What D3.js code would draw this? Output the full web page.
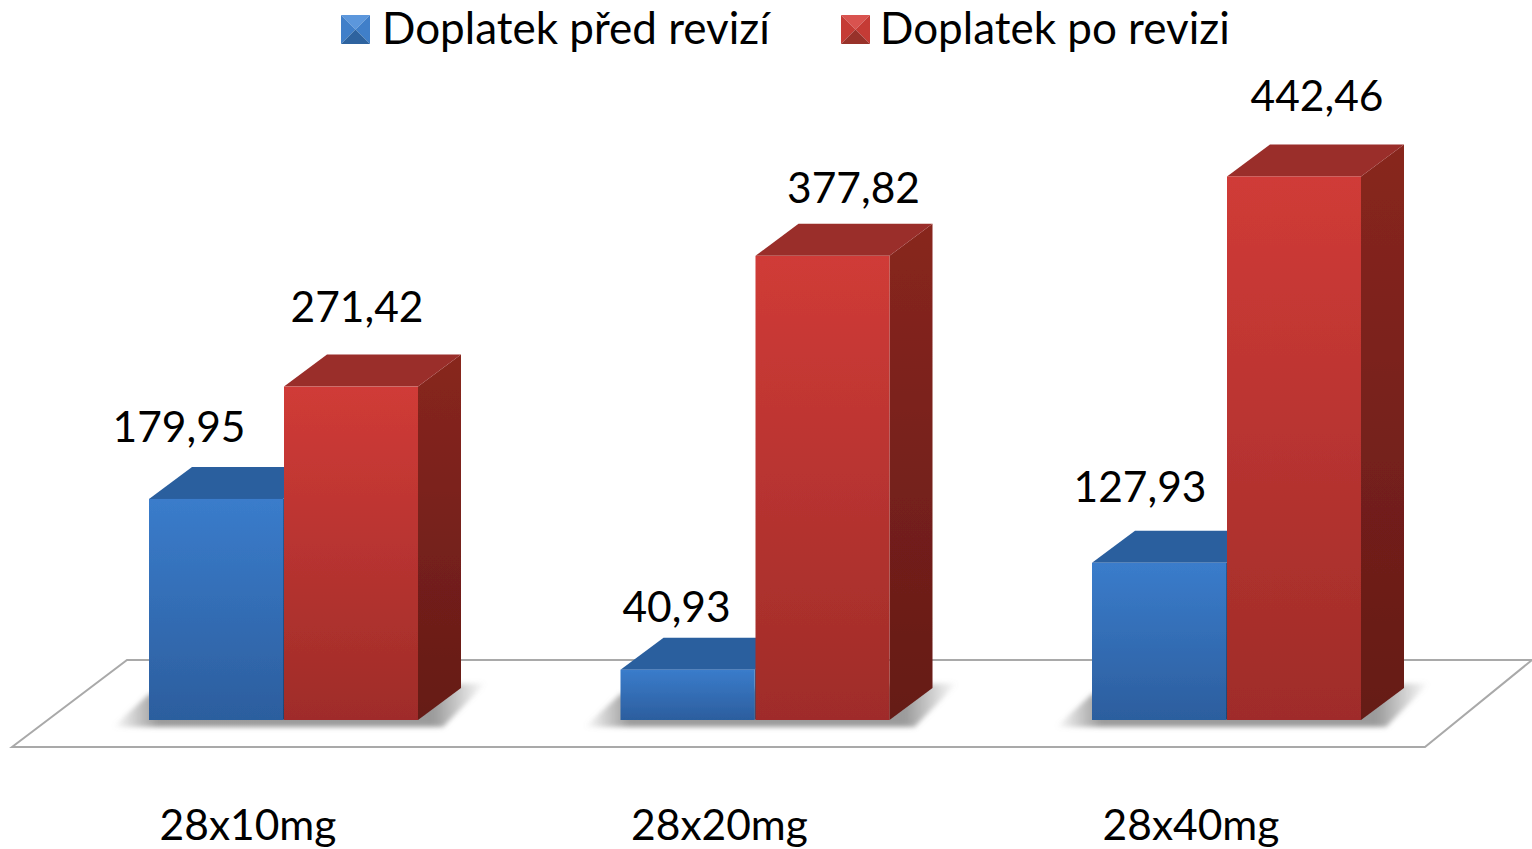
<!DOCTYPE html>
<html>
<head>
<meta charset="utf-8">
<script src="https://cdn.jsdelivr.net/npm/d3@7"></script>
<style>
html, body { margin: 0; padding: 0; background: #fff; }
svg { display: block; }
text { font-family: Lato, sans-serif; fill: #000; }
</style>
</head>
<body>
<div id="chart"></div>
<script>
const categories = ["28x10mg", "28x20mg", "28x40mg"];
const seriesNames = ["Doplatek před revizí", "Doplatek po revizi"];
const beforeValues = [179.95, 40.93, 127.93];
const afterValues = [271.42, 377.82, 442.46];

// hand placed labels in the original, offset from the bar's top front centre
const beforeLabelNudge = [[-38, -57], [-12, -48], [-20, -61]];
const afterLabelNudge = [[6, -65], [31, -53], [23, -65]];

const width = 1532, height = 849;
const baseY = 720;
const depthX = 43, depthY = 32;
const barW = 134;
const labelSize = 42.5;

const comma = v => v.toFixed(2).replace(".", ",");

const svg = d3.select("#chart").append("svg")
    .attr("width", width)
    .attr("height", height);
const defs = svg.append("defs");

const addGradient = function (id, top, bottom) {
    const g = defs.append("linearGradient")
        .attr("id", id)
        .attr("x1", 0).attr("y1", 0).attr("x2", 0).attr("y2", 1);
    g.append("stop").attr("offset", "0%").attr("stop-color", top);
    g.append("stop").attr("offset", "100%").attr("stop-color", bottom);
};
addGradient("frontBlue", "#3a7ccb", "#2c5e9e");
addGradient("frontRed", "#d03b37", "#9f2c29");
addGradient("sideBlue", "#2b5f9c", "#1f4674");
addGradient("sideRed", "#88261f", "#651b17");

// shadow fades out sideways
const shadowFade = defs.append("linearGradient").attr("id", "shadowFade");
[[0, 0], [0.12, 0.85], [0.86, 0.85], [1, 0]].forEach(function (s) {
    shadowFade.append("stop")
        .attr("offset", s[0])
        .attr("stop-color", "#8a8a8a")
        .attr("stop-opacity", s[1]);
});

defs.append("filter").attr("id", "soft")
    .attr("x", "-10%").attr("y", "-30%").attr("width", "120%").attr("height", "160%")
    .append("feGaussianBlur").attr("stdDeviation", 2.5);
defs.append("filter").attr("id", "jpeg")
    .attr("x", "-5%").attr("y", "-5%").attr("width", "110%").attr("height", "110%")
    .append("feGaussianBlur").attr("stdDeviation", 0.7);

const x = d3.scaleBand().domain(categories).range([48.25, 1462.75]);
const series = d3.scaleBand().domain(seriesNames).range([-barW, barW]);
const y = d3.scaleLinear().domain([0, 450]).range([baseY, baseY - 450 * 1.2285]);

const poly = pts => pts.map(p => p.join(",")).join(" ");

// floor
svg.append("polygon")
    .attr("points", poly([[12, 747], [127, 660], [1532, 660], [1425, 747]]))
    .attr("fill", "#fff")
    .attr("stroke", "#a9a9a9")
    .attr("stroke-width", 2);

const groups = svg.selectAll("g.group")
    .data(categories)
    .join("g")
    .attr("class", "group")
    .attr("transform", d => `translate(${x(d) + x.bandwidth() / 2 - 1},0)`);

// shadow under each pair of bars
groups.append("polygon")
    .attr("points", poly([
        [-barW - 36, baseY + 7],
        [-barW, baseY - 26],
        [barW + depthX + 26, baseY - 37],
        [barW + 26, baseY + 7]
    ]))
    .attr("fill", "url(#shadowFade)")
    .attr("filter", "url(#soft)");

const drawBar = function (sel, value, left, colour) {
    const top = y(value);
    const bar = sel.append("g").attr("filter", "url(#jpeg)");
    bar.append("polygon")
        .attr("points", poly([[left + barW, top], [left + barW + depthX, top - depthY], [left + barW + depthX, baseY - depthY], [left + barW, baseY]]))
        .attr("fill", `url(#side${colour})`);
    bar.append("polygon")
        .attr("points", poly([[left, top], [left + depthX, top - depthY], [left + barW + depthX, top - depthY], [left + barW, top]]))
        .attr("fill", colour === "Red" ? "#9a2e2a" : "#2b5f9e");
    bar.append("rect")
        .attr("x", left)
        .attr("y", top)
        .attr("width", barW)
        .attr("height", baseY - top)
        .attr("fill", `url(#front${colour})`);
};

groups.each(function (d, i) {
    const g = d3.select(this);
    drawBar(g, beforeValues[i], series(seriesNames[0]), "Blue");
    drawBar(g, afterValues[i], series(seriesNames[1]) + 1, "Red");

    g.append("text")
        .attr("x", series(seriesNames[0]) + barW / 2 + beforeLabelNudge[i][0] + 1)
        .attr("y", y(beforeValues[i]) + beforeLabelNudge[i][1])
        .attr("text-anchor", "middle")
        .attr("font-size", labelSize)
        .text(comma(beforeValues[i]));
    g.append("text")
        .attr("x", series(seriesNames[1]) + barW / 2 + afterLabelNudge[i][0] + 1)
        .attr("y", y(afterValues[i]) + afterLabelNudge[i][1])
        .attr("text-anchor", "middle")
        .attr("font-size", labelSize)
        .text(comma(afterValues[i]));

    g.append("text")
        .attr("x", -35)
        .attr("y", 840)
        .attr("text-anchor", "middle")
        .attr("font-size", labelSize)
        .text(d);
});

// legend, swatches are little bevelled squares
const legendX = [341, 841];
const legendTextGap = [41, 39];
const legendColours = [
    {light: "#5b97dc", mid: "#3f7fc9", dark: "#2d649f"},
    {light: "#d9534f", mid: "#c53a36", dark: "#98302c"}
];
const legend = svg.selectAll("g.legend")
    .data(seriesNames)
    .join("g")
    .attr("class", "legend")
    .attr("transform", (d, i) => `translate(${legendX[i]},15)`);

legend.each(function (d, i) {
    const g = d3.select(this), c = legendColours[i], s = 29, m = s / 2;
    const swatch = g.append("g").attr("filter", "url(#jpeg)");
    swatch.append("polygon").attr("points", poly([[0, 0], [s, 0], [m, m]])).attr("fill", c.light);
    swatch.append("polygon").attr("points", poly([[0, 0], [m, m], [0, s]])).attr("fill", c.mid);
    swatch.append("polygon").attr("points", poly([[s, 0], [m, m], [s, s]])).attr("fill", c.mid);
    swatch.append("polygon").attr("points", poly([[0, s], [m, m], [s, s]])).attr("fill", c.dark);
    g.append("text")
        .attr("x", legendTextGap[i])
        .attr("y", 29)
        .attr("font-size", 44)
        .text(d);
});
</script>
</body>
</html>
